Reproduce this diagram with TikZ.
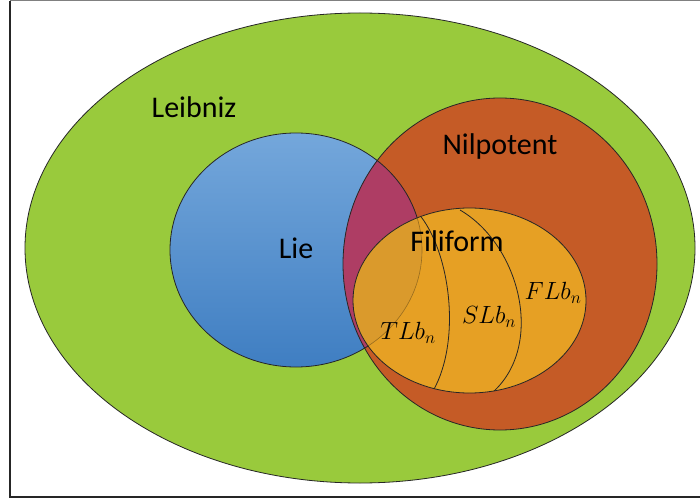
\documentclass[tikz,border=0pt]{standalone}
\usepackage{fontspec}
\setmainfont{Carlito}
\definecolor{leibgreen}{HTML}{99CA3C}
\definecolor{lietop}{HTML}{74A7DB}
\definecolor{liebot}{HTML}{3F7EC2}
\definecolor{nilred}{HTML}{C55B26}
\definecolor{overlapmag}{HTML}{AE3D64}
\definecolor{filorange}{HTML}{E6A024}
\definecolor{fildark}{HTML}{DA9A2C}
\tikzset{
  setedge/.style={draw=black!85, line width=0.8pt},
  setlabel/.style={font=\fontsize{30}{36}\selectfont, inner sep=0pt},
  mathlabel/.style={font=\fontsize{25}{30}\selectfont, inner sep=0pt},
}
\begin{document}
\begin{tikzpicture}[x=1pt,y=-1pt]
\useasboundingbox (0,0) rectangle (700,502);
\fill[white] (0,0) rectangle (700,502);
% frame
\draw[black!50, line width=1pt] (10,1) -- (702,1);
\draw[black!85, line width=2pt] (10,1) -- (10,497) -- (702,497);
% Leibniz
\coordinate (cg) at (360,248);
\fill[leibgreen] (cg) ellipse [x radius=335, y radius=235];
\draw[setedge] (cg) ellipse [x radius=335, y radius=235];
% Lie
\coordinate (cl) at (296,250);
\shade[top color=lietop, bottom color=liebot] (cl) ellipse [x radius=126, y radius=117];
\draw[setedge] (cl) ellipse [x radius=126, y radius=117];
% Nilpotent
\coordinate (cn) at (500,264);
\fill[nilred] (cn) ellipse [x radius=157, y radius=166];
\begin{scope}
  \clip (cl) ellipse [x radius=126, y radius=117];
  \fill[overlapmag] (cn) ellipse [x radius=157, y radius=166];
\end{scope}
\draw[setedge] (cn) ellipse [x radius=157, y radius=166];
\begin{scope}
  \clip (cn) ellipse [x radius=157, y radius=166];
  \draw[setedge] (cl) ellipse [x radius=126, y radius=117];
\end{scope}
% Filiform
\coordinate (cf) at (469.5,300.5);
\fill[filorange] (cf) ellipse [x radius=116.5, y radius=92.5];
\begin{scope}
  \clip (cf) ellipse [x radius=116.5, y radius=92.5];
  \fill[fildark] (cl) ellipse [x radius=126, y radius=117];
  \draw[black!30!fildark, line width=0.6pt] (cl) ellipse [x radius=126, y radius=117];
  \coordinate (a1) at (418,213);
  \coordinate (a2) at (433,391);
  \coordinate (b1) at (460,210);
  \coordinate (b2) at (493,392);
  \draw[setedge] (a1) .. controls (450,250) and (462,340) .. (a2);
  \draw[setedge] (b1) .. controls (520,245) and (545,345) .. (b2);
\end{scope}
\draw[setedge] (cf) ellipse [x radius=116.5, y radius=92.5];
% labels
\node[setlabel] (leib) at (194,107) {Leibniz};
\node[setlabel] (lie) at (296,248) {Lie};
\node[setlabel] (nil) at (500,147) {Nilpotent};
\node[setlabel] (fil) at (457,241) {Filiform};
\node[mathlabel] (tlb) at (408,333) {$TLb_n$};
\node[mathlabel] (slb) at (489,317) {$SLb_n$};
\node[mathlabel] (flb) at (553,293) {$FLb_n$};
\end{tikzpicture}
\end{document}
